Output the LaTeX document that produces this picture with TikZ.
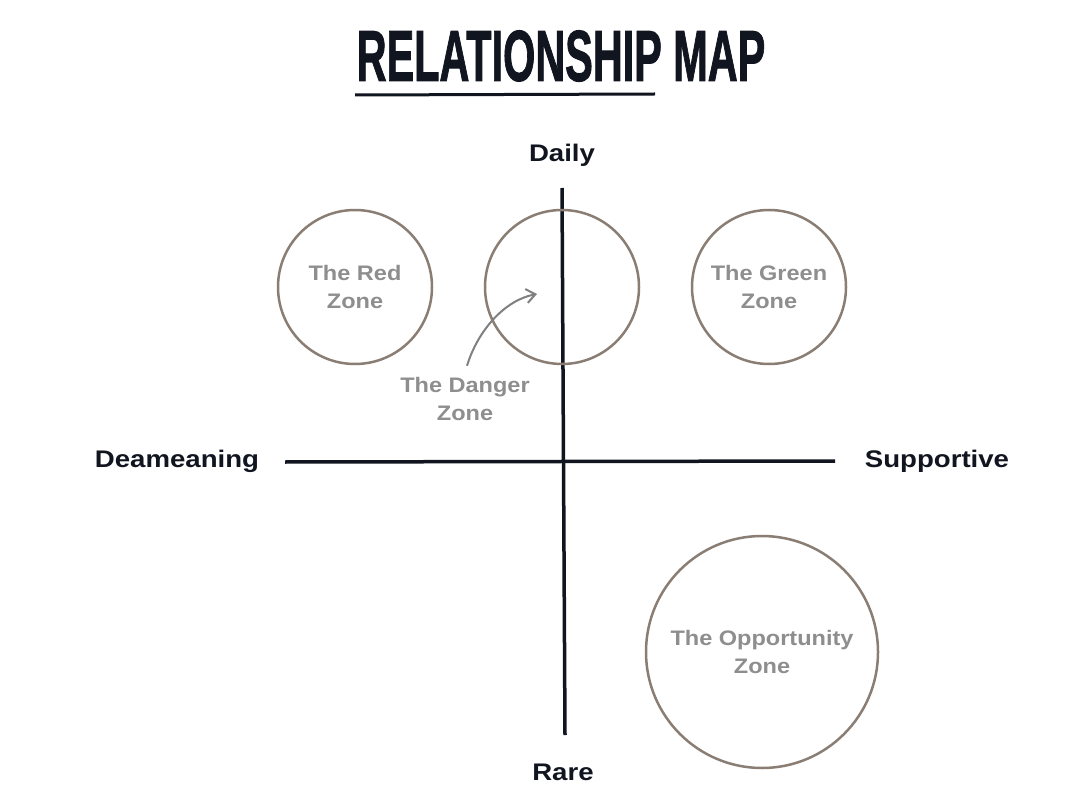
\documentclass[tikz,border=0pt]{standalone}
\usepackage{fontspec}
\usepackage{graphicx}
\setmainfont{Liberation Sans}
\newfontfamily\titlefont{Liberation Sans Bold}[FakeBold=1.6]
\newfontfamily\axisfont{Liberation Sans Bold}[FakeStretch=1.15]
\newfontfamily\zonefont{Liberation Sans Bold}[FakeStretch=1.12]
\usetikzlibrary{arrows.meta}
\definecolor{ink}{HTML}{10151F}
\definecolor{ring}{HTML}{8A7E74}
\definecolor{zonetext}{HTML}{8E8E8E}
\tikzset{
  zone/.style={circle, draw=ring, line width=2.5pt, minimum size=#1, inner sep=0pt},
  zonelabel/.style={text=zonetext, font=\zonefont\fontsize{21}{28}\selectfont, align=center},
  axislabel/.style={text=ink, font=\axisfont\fontsize{24}{28}\selectfont},
  axisline/.style={draw=ink, line width=3.5pt},
}
\begin{document}
\begin{tikzpicture}[x=1pt,y=-1pt]
\useasboundingbox[fill=white] (0,0) rectangle (1084,802);
% title
\node[text=ink, inner sep=0pt] (title) at (561,56) {\scalebox{0.575}[1]{\titlefont\fontsize{72}{72}\selectfont RELATIONSHIP MAP}};
\coordinate (ulA) at (355,95);
\coordinate (ulB) at (655,94);
\draw[ink, line width=3pt] (ulA) -- (ulB);
% axes
\coordinate (vtop) at (562,188);
\coordinate (vbot) at (565,735);
\coordinate (hl) at (285,462);
\coordinate (hr) at (835,461);
\draw[axisline] (vtop) -- (vbot);
\draw[axisline] (hl) -- (hr);
\node[axislabel] (daily) at (562,155) {Daily};
\node[axislabel] (rare) at (563,772) {Rare};
\node[axislabel] (dem) at (177,461) {Deameaning};
\node[axislabel] (sup) at (937,461) {Supportive};
% zones
\node[zone=154pt] (red) at (355,287) {};
\node[zone=154pt] (danger) at (562,287) {};
\node[zone=154pt] (green) at (769,287) {};
\node[zone=232pt] (opp) at (762,652) {};
\node[zonelabel] (redl) at (red) {The Red\\Zone};
\node[zonelabel] (greenl) at (green) {The Green\\Zone};
\node[zonelabel] (oppl) at (opp) {The Opportunity\\Zone};
\node[zonelabel] (dangerl) at (465,399) {The Danger\\Zone};
\coordinate (arrowtip) at (537,294);
\draw[zonetext!90!black, line width=2pt, -{Straight Barb[length=9pt,width=14pt]}]
  (dangerl.north) ++(2,-8) .. controls (478,330) and (505,300) .. (arrowtip);
\end{tikzpicture}
\end{document}
